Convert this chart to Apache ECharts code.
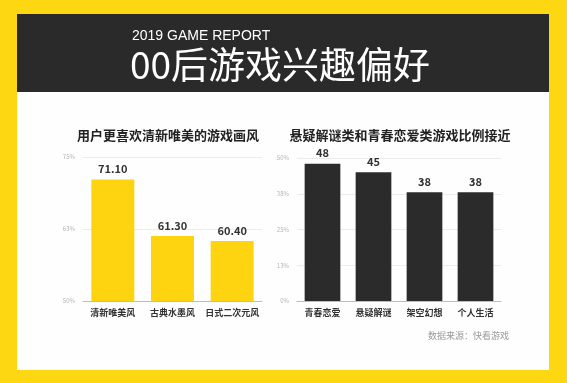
<!DOCTYPE html>
<html><head><meta charset="utf-8">
<script src="https://cdn.jsdelivr.net/npm/echarts@6/dist/echarts.min.js"></script>
<style>html,body{margin:0;padding:0;background:#fff}#c{width:567px;height:383px}</style>
</head><body><div id="c"></div>
<script>
const styleCats = ['清新唯美风', '古典水墨风', '日式二次元风'];
const styleVals = [71.10, 61.30, 60.40];
const genreCats = ['青春恋爱', '悬疑解谜', '架空幻想', '个人生活'];
const genreVals = [48, 45, 38, 38];

const chart = echarts.init(document.getElementById('c'), null, {renderer: 'canvas'});
const FONT = '"Noto Sans CJK SC", "Noto Sans", sans-serif';
const pct = v => Math.round(v) + '%';
const yAxisCommon = {
  type: 'value', interval: 12.5,
  axisLine: {show: false}, axisTick: {show: false},
  axisLabel: {formatter: pct, fontSize: 6, color: '#b5b5b5', margin: 8, fontFamily: FONT},
  splitLine: {lineStyle: {color: '#ececec', width: 1}}
};
const xAxisCommon = {
  type: 'category',
  axisLine: {lineStyle: {color: '#bdbdbd', width: 1}},
  axisTick: {show: false},
  axisLabel: {interval: 0, fontSize: 9, fontWeight: 'bold', color: '#333', margin: 7, fontFamily: FONT}
};
chart.setOption({
  backgroundColor: '#FDD812',
  animation: false,
  graphic: [
    {type: 'rect', shape: {x: 17, y: 14, width: 532, height: 356}, style: {fill: '#fefefe'}, z: 0},
    {type: 'rect', shape: {x: 17, y: 14, width: 532, height: 78}, style: {fill: '#2a2a2a'}, z: 0}
  ],
  title: [
    {text: '2019 GAME REPORT', left: 127, top: 24, textStyle: {color: '#fff', fontSize: 14, fontWeight: 'normal', fontFamily: '"Liberation Sans", Arial, sans-serif'}},
    {text: '00后游戏兴趣偏好', left: 125, top: 41, textStyle: {color: '#fff', fontSize: 37, fontWeight: 'normal', fontFamily: FONT}},
    {text: '用户更喜欢清新唯美的游戏画风', left: 163, textAlign: 'center', top: 124, textStyle: {color: '#222', fontSize: 13, fontWeight: 'bold', fontFamily: FONT}},
    {text: '悬疑解谜类和青春恋爱类游戏比例接近', left: 395, textAlign: 'center', top: 124, textStyle: {color: '#222', fontSize: 13, fontWeight: 'bold', fontFamily: FONT}},
    {text: '数据来源：快看游戏', left: 423, top: 326, textStyle: {color: '#9a9a9a', fontSize: 9, fontWeight: 'normal', fontFamily: FONT}}
  ],
  grid: [
    {left: 83, width: 179, top: 157, height: 144},
    {left: 297, width: 204, top: 158, height: 143}
  ],
  xAxis: [
    Object.assign({gridIndex: 0, data: styleCats}, xAxisCommon),
    Object.assign({gridIndex: 1, data: genreCats}, xAxisCommon)
  ],
  yAxis: [
    Object.assign({gridIndex: 0, min: 50, max: 75}, yAxisCommon),
    Object.assign({gridIndex: 1, min: 0, max: 50}, yAxisCommon)
  ],
  series: [
    {type: 'bar', xAxisIndex: 0, yAxisIndex: 0, data: styleVals, barWidth: '72%',
     itemStyle: {color: '#FDD40F'},
     label: {show: true, position: 'top', distance: 5, formatter: p => p.value.toFixed(2), fontSize: 11, fontWeight: 'bold', color: '#333', fontFamily: FONT}},
    {type: 'bar', xAxisIndex: 1, yAxisIndex: 1, data: genreVals, barWidth: '70%',
     itemStyle: {color: '#2b2b2b'},
     label: {show: true, position: 'top', distance: 5, fontSize: 11, fontWeight: 'bold', color: '#333', fontFamily: FONT}}
  ]
});
</script></body></html>
